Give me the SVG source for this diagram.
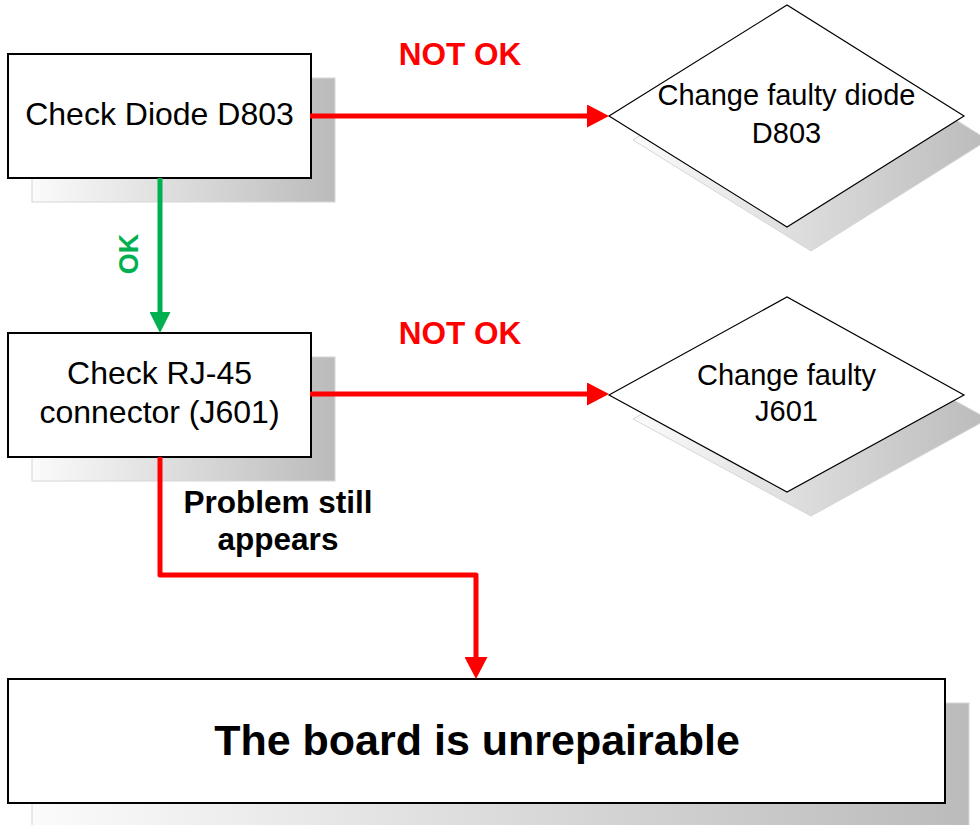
<svg xmlns="http://www.w3.org/2000/svg" width="980" height="825" viewBox="0 0 980 825">
<style>
.box{fill:#ffffff;stroke:#000000;stroke-width:2}
.dia{fill:#ffffff;stroke:#000000;stroke-width:1.2}
.shadow{fill:url(#shadowGrad);stroke:#d6d6d6;stroke-width:1}
.t{font-family:"Liberation Sans",Arial,sans-serif;fill:#000000;text-anchor:middle}
.n{font-size:32px}
.d{font-size:29px}
.b{font-weight:bold}
.red{fill:none;stroke:#ff0000;stroke-width:5;stroke-linejoin:round}
.green{fill:none;stroke:#00b050;stroke-width:5}
</style>
<defs>
<linearGradient id="shadowGrad" x1="0" y1="0" x2="1" y2="0">
<stop offset="0" stop-color="#fbfbfb"/>
<stop offset="1" stop-color="#bbbbbb"/>
</linearGradient>
<marker id="arrRed" viewBox="0 0 22 23" refX="0" refY="11.5" markerWidth="22" markerHeight="23" markerUnits="userSpaceOnUse" orient="auto">
<path d="M0,0 L22,11.5 L0,23 z" fill="#ff0000"/>
</marker>
<marker id="arrGreen" viewBox="0 0 21 21" refX="0" refY="10.5" markerWidth="21" markerHeight="21" markerUnits="userSpaceOnUse" orient="auto">
<path d="M0,0 L21,10.5 L0,21 z" fill="#00b050"/>
</marker>
</defs>

<g id="node-check-diode">
<rect class="shadow" x="32" y="78" width="303" height="124"/>
<rect class="box" x="8" y="54" width="303" height="124"/>
<text class="t n" x="159.5" y="125">Check Diode D803</text>
</g>

<g id="node-change-diode">
<polygon class="shadow" points="633,140 811,29 988,140 811,251"/>
<polygon class="dia" points="609,116 787,5 964,116 787,227"/>
<text class="t d" x="786.5" y="105">Change faulty diode</text>
<text class="t d" x="786.5" y="143">D803</text>
</g>

<g id="node-check-rj45">
<rect class="shadow" x="32" y="357" width="303" height="124"/>
<rect class="box" x="8" y="333" width="303" height="124"/>
<text class="t n" x="159.5" y="384">Check RJ-45</text>
<text class="t n" x="159.5" y="423">connector (J601)</text>
</g>

<g id="node-change-j601">
<polygon class="shadow" points="633,419 811,321 988,419 811,516"/>
<polygon class="dia" points="609,395 787,297 964,395 787,492"/>
<text class="t d" x="786.5" y="385">Change faulty</text>
<text class="t d" x="786.5" y="421">J601</text>
</g>

<g id="node-unrepairable">
<rect class="shadow" x="32" y="703" width="937" height="124"/>
<rect class="box" x="8" y="679" width="937" height="124"/>
<text class="t b" style="font-size:43px" x="477" y="755">The board is unrepairable</text>
</g>

<g id="connectors">
<path class="red" d="M310,116 H587" marker-end="url(#arrRed)"/>
<path class="green" d="M160,178 V312" marker-end="url(#arrGreen)"/>
<path class="red" d="M310,394 H587" marker-end="url(#arrRed)"/>
<path class="red" d="M160,457 V575 H476 V657" marker-end="url(#arrRed)"/>
<text class="t b" style="font-size:31.5px;fill:#ff0000" x="460" y="65">NOT OK</text>
<text class="t b" style="font-size:31.5px;fill:#ff0000" x="460" y="344">NOT OK</text>
<text class="t b" style="font-size:27px;fill:#00b050" x="0" y="0" transform="translate(138,254) rotate(-90)">OK</text>
<text class="t b" style="font-size:31.5px" x="278" y="513">Problem still</text>
<text class="t b" style="font-size:31.5px" x="278" y="550">appears</text>
</g>
</svg>
